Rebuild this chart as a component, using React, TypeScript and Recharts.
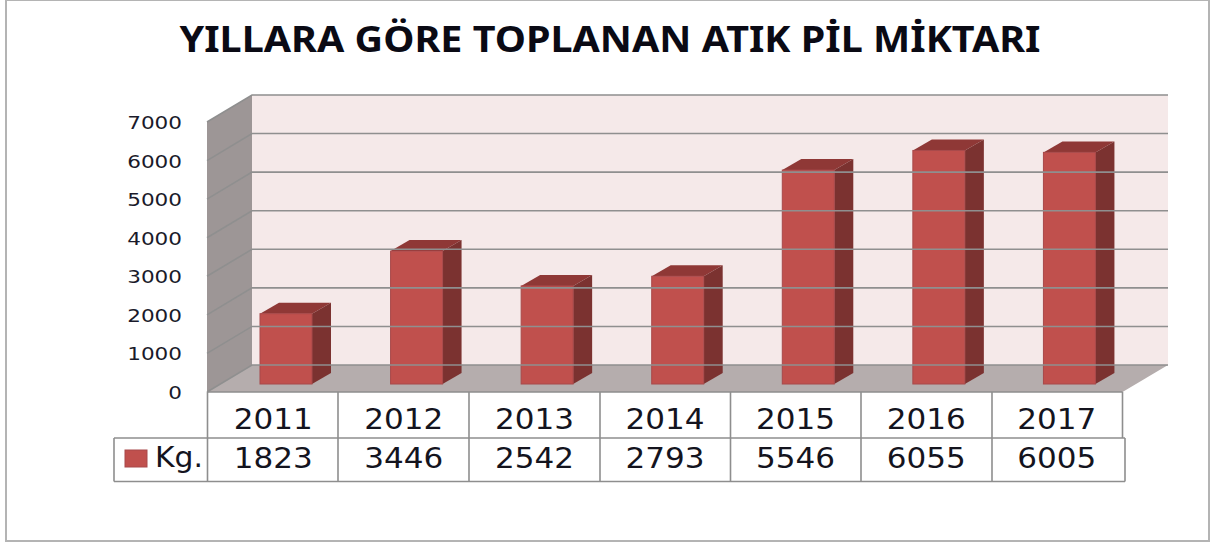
import React from 'react';
import { BarChart, Bar, XAxis, YAxis } from 'recharts';

const years = ['2011', '2012', '2013', '2014', '2015', '2016', '2017'];
const kg = [1823, 3446, 2542, 2793, 5546, 6055, 6005];
const yTicks = [0, 1000, 2000, 3000, 4000, 5000, 6000, 7000];
const title = 'YILLARA GÖRE TOPLANAN ATIK PİL MİKTARI';
const seriesName = 'Kg.';
const data = years.map((year, i) => ({ year, kg: kg[i] }));

const FONT = '"DejaVu Sans", sans-serif';
const GRID = '#8f8f8f';
const TABLE = '#8e8e8e';
const DEPTH_X = 19;
const DEPTH_Y = 11;

const YTick = (props: any) => {
  const { y, payload } = props;
  const s = String(payload.value);
  return (
    <g>
      <polyline points={`207,${y + 8} 252,${y - 19} 1168,${y - 19}`} fill="none" stroke={GRID} strokeWidth={1.6} />
      <text x={182} y={y + 15} textAnchor="end" fontFamily={FONT} fontSize={17} fill="#1a1a2a"
        textLength={s.length * 13.7} lengthAdjust="spacingAndGlyphs">{s}</text>
    </g>
  );
};

const TableTick = (props: any) => {
  const { x, index, payload } = props;
  const cx = x - 13;
  return (
    <g>
      <text x={cx} y={429} textAnchor="middle" fontFamily={FONT} fontSize={28} fill="#14141e"
        textLength={79} lengthAdjust="spacingAndGlyphs">{payload.value}</text>
      <text x={cx} y={468} textAnchor="middle" fontFamily={FONT} fontSize={28} fill="#14141e"
        textLength={79} lengthAdjust="spacingAndGlyphs">{kg[index]}</text>
    </g>
  );
};

const Bar3D = (props: any) => {
  const { x, y, width, height } = props;
  const r = x + width;
  const b = y + height;
  return (
    <g>
      <polygon points={`${x},${y} ${x + DEPTH_X},${y - DEPTH_Y} ${r + DEPTH_X},${y - DEPTH_Y} ${r},${y}`} fill="#8f3836" />
      <polygon points={`${r},${y} ${r + DEPTH_X},${y - DEPTH_Y} ${r + DEPTH_X},${b - DEPTH_Y} ${r},${b}`} fill="#7b3230" />
      <rect x={x} y={y} width={width} height={height} fill="#c0504d" stroke="#a8494a" strokeWidth={1} />
    </g>
  );
};

const columnEdges = [207.5, 338, 469, 600, 730.5, 861, 992, 1122.5];

export default function App() {
  return (
    <div style={{ position: 'absolute', left: 0, top: 0, width: 1215, height: 542 }}>
      <svg width={1215} height={542} style={{ position: 'absolute', left: 0, top: 0 }}>
        <rect x={6} y={0} width={1203} height={541} fill="#fff" stroke="#b4b4b4" strokeWidth={2} />
        <rect x={252} y={95} width={916} height={270} fill="#f5e9e9" />
        <polygon points="207,122 252,95 252,365 207,392" fill="#9d9696" />
        <polygon points="252,365 1168,365 1122.5,392 207,392" fill="#b5adad" />
        <g stroke={TABLE} strokeWidth={1.6} fill="none">
          <line x1={207.5} y1={392} x2={1122.5} y2={392} />
          <line x1={114} y1={438} x2={1125} y2={438} />
          <line x1={114} y1={481.5} x2={1125} y2={481.5} />
          <line x1={114} y1={438} x2={114} y2={481.5} />
          <line x1={1125} y1={438} x2={1125} y2={481.5} />
          {columnEdges.map((x) => (
            <line key={x} x1={x} y1={392} x2={x} y2={x === 1122.5 ? 438 : 481.5} />
          ))}
        </g>
      </svg>
      <div style={{ position: 'absolute', left: 0, top: 0 }}>
        <BarChart width={1215} height={542} data={data} margin={{ top: 114, right: 80, bottom: 157, left: 220 }} barCategoryGap={39}>
          <text x={610} y={52} textAnchor="middle" fontFamily='"Noto Sans", sans-serif' fontWeight={700} fontSize={36} fill="#0a0a14"
            textLength={861} lengthAdjust="spacingAndGlyphs">{title}</text>
          <YAxis domain={[0, 7000]} ticks={yTicks} width={1} axisLine={false} tickLine={false} tick={<YTick />} interval={0} />
          <XAxis dataKey="year" height={1} axisLine={false} tickLine={false} tick={<TableTick />} interval={0} />
          <rect x={125} y={450} width={22} height={17} fill="#c0504d" stroke="#a8494a" />
          <text x={155} y={467} fontFamily={FONT} fontSize={28} fill="#14141e" textLength={48} lengthAdjust="spacingAndGlyphs">{seriesName}</text>
          <Bar dataKey="kg" barSize={52} isAnimationActive={false} shape={<Bar3D />} />
        </BarChart>
      </div>
    </div>
  );
}
